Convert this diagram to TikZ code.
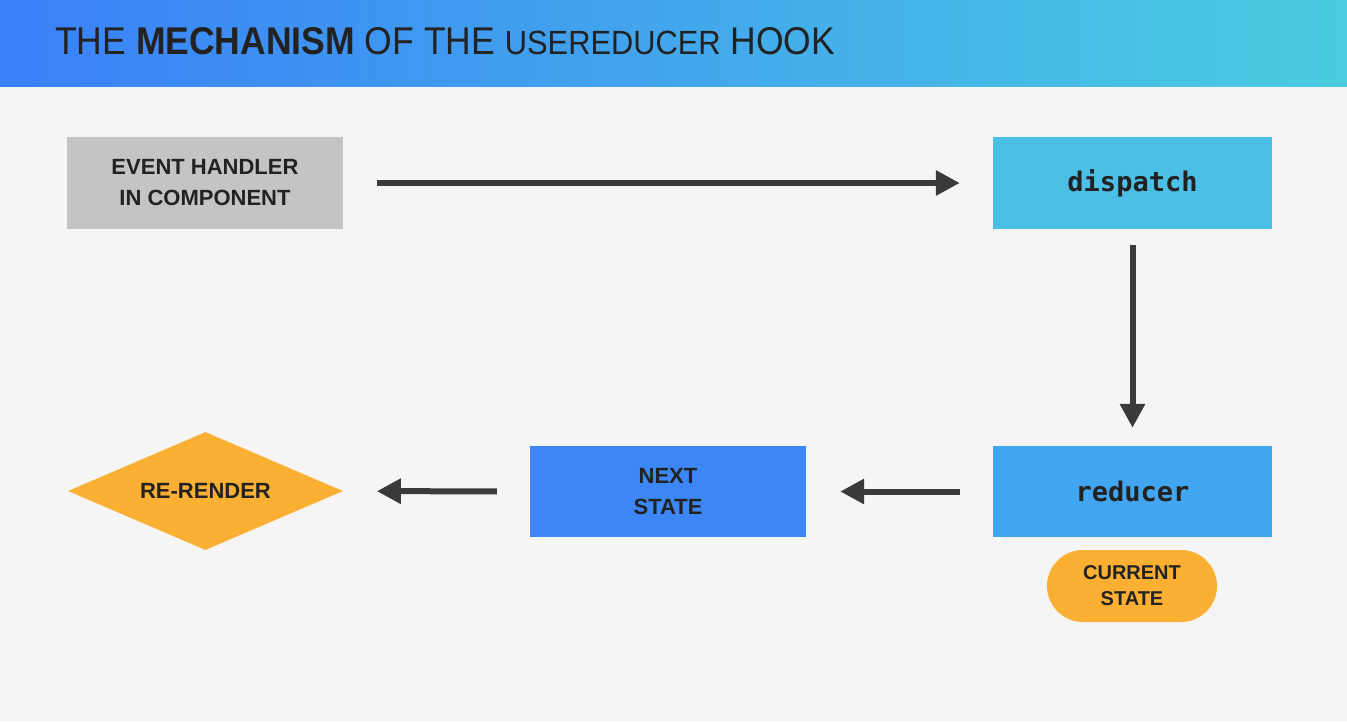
\documentclass[tikz,border=0pt]{standalone}
\usepackage{fontspec}
\setmainfont{Liberation Sans}
\newfontfamily\codefont{DejaVu Sans Mono}
\newfontfamily\titlefont{Liberation Sans}
\usetikzlibrary{shapes.geometric,arrows.meta}
\definecolor{bgc}{RGB}{245,245,245}
\definecolor{hdl}{RGB}{58,128,248}
\definecolor{hdr}{RGB}{74,205,224}
\definecolor{evgray}{RGB}{196,196,196}
\definecolor{dispc}{RGB}{75,191,230}
\definecolor{redc}{RGB}{66,165,240}
\definecolor{nextc}{RGB}{60,135,245}
\definecolor{orangec}{RGB}{251,176,52}
\definecolor{arrc}{RGB}{58,58,58}
\definecolor{txt}{RGB}{34,34,34}
\tikzset{
  box/.style={rectangle, draw=none, inner sep=0pt, text=txt, align=center,
    font=\bfseries\fontsize{22}{31}\selectfont},
  codebox/.style={rectangle, draw=none, inner sep=0pt, text=txt,
    font=\codefont\bfseries\fontsize{27}{30}\selectfont},
  arr/.style={draw=arrc, line width=6pt, -{Triangle[length=24pt,width=24pt]}},
}
\begin{document}
\begin{tikzpicture}[x=1pt,y=-1pt]
\useasboundingbox (0,0) rectangle (1347,721);
\fill[bgc] (0,0) rectangle (1347,721);
\shade[left color=hdl, right color=hdr] (0,0) rectangle (1347,86);
\node[anchor=west, inner sep=0pt, text=txt] (title) at (55,41.5)
  {\resizebox{780pt}{27pt}{\titlefont\fontsize{38}{40}\selectfont THE \textbf{MECHANISM} OF THE {\fontsize{33}{35}\selectfont USEREDUCER} HOOK}};

\node[box, fill=evgray, minimum width=276pt, minimum height=92pt] (ev) at (205,183) {EVENT HANDLER\\IN COMPONENT};
\node[codebox, fill=dispc, minimum width=279pt, minimum height=92pt] (disp) at (1132.5,183) {dispatch};
\node[codebox, fill=redc, minimum width=279pt, minimum height=91pt] (red) at (1132.5,491.5) {reducer};
\node[box, fill=nextc, minimum width=276pt, minimum height=91pt] (next) at (668,491.5) {NEXT\\STATE};
\node[box, fill=orangec, minimum width=170pt, minimum height=72pt, rounded corners=36pt,
  font=\bfseries\fontsize{20}{26}\selectfont] (cur) at (1132,586) {CURRENT\\STATE};
\node[box, diamond, fill=orangec, aspect=2.33, minimum width=275pt, minimum height=118pt] (rr) at (205.5,491) {RE-RENDER};

\draw[arr, shorten <=34pt, shorten >=33pt] (ev) -- (disp);
\draw[arr, shorten <=16pt, shorten >=18pt] (disp) -- (red);
\draw[arr, shorten <=33pt, shorten >=34pt] (red) -- (next);
\draw[arr, shorten <=33pt, shorten >=34pt] (next) -- (rr);
\end{tikzpicture}
\end{document}
